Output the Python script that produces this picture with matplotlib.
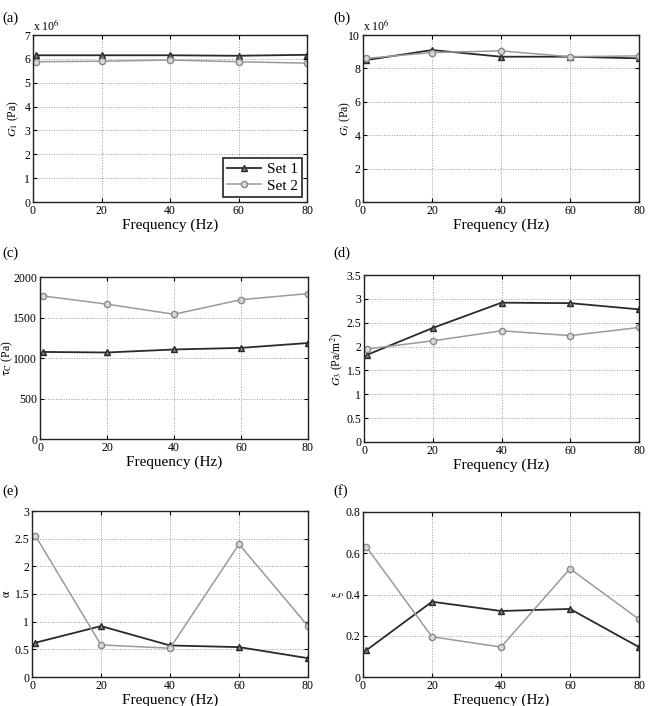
import matplotlib
matplotlib.use("Agg")
import matplotlib.pyplot as plt
import numpy as np

plt.rcParams['font.family'] = ['Liberation Serif', 'DejaVu Serif']
plt.rcParams['mathtext.fontset'] = 'stix'

freq = [1, 20, 40, 60, 80]

g1_set1 = [6.15, 6.15, 6.15, 6.13, 6.17]
g1_set2 = [5.88, 5.90, 5.95, 5.88, 5.82]
gi_set1 = [8.50, 9.10, 8.70, 8.70, 8.60]
gi_set2 = [8.60, 8.95, 9.05, 8.70, 8.75]
tau_set1 = [1075, 1068, 1105, 1125, 1185]
tau_set2 = [1765, 1665, 1540, 1720, 1795]
g3_set1 = [1.83, 2.39, 2.92, 2.91, 2.78]
g3_set2 = [1.95, 2.12, 2.33, 2.23, 2.40]
alpha_set1 = [0.62, 0.92, 0.57, 0.54, 0.34]
alpha_set2 = [2.55, 0.58, 0.52, 2.40, 0.92]
xi_set1 = [0.13, 0.365, 0.32, 0.33, 0.145]
xi_set2 = [0.63, 0.195, 0.145, 0.525, 0.28]

W, H = 649, 706
fig = plt.figure(figsize=(W / 100, H / 100), dpi=100)

def box(l, r, t, b):
    return [l / W, 1 - b / H, (r - l) / W, (b - t) / H]

panels = [
    dict(pos=box(33, 307, 35, 202), s1=g1_set1, s2=g1_set2, ylim=(0, 7), yt=np.arange(0, 8, 1),
         ylabel=r'$G_1$ (Pa)', lab='(a)', labxy=(2, 18), ylpx=13, off=r'x 10$^6$', legend=True),
    dict(pos=box(363, 639, 35, 202), s1=gi_set1, s2=gi_set2, ylim=(0, 10), yt=np.arange(0, 11, 2),
         ylabel=r'$G_i$ (Pa)', lab='(b)', labxy=(333, 18), ylpx=345, off=r'x 10$^6$'),
    dict(pos=box(40, 308, 277, 439), s1=tau_set1, s2=tau_set2, ylim=(0, 2000), yt=np.arange(0, 2001, 500),
         ylabel=r'$\mathrm{\tau_C}$ (Pa)', lab='(c)', labxy=(2, 253), ylpx=7.5),
    dict(pos=box(364, 639, 275, 442), s1=g3_set1, s2=g3_set2, ylim=(0, 3.5), yt=np.arange(0, 3.6, 0.5),
         ylabel=r'$G_3$ (Pa/m$^2$)', lab='(d)', labxy=(333, 253), ylpx=337),
    dict(pos=box(32, 308, 511, 677), s1=alpha_set1, s2=alpha_set2, ylim=(0, 3), yt=np.arange(0, 3.1, 0.5),
         ylabel=r'$\mathrm{\alpha}$', lab='(e)', labxy=(2, 491), ylpx=7),
    dict(pos=box(363, 639, 512, 677), s1=xi_set1, s2=xi_set2, ylim=(0, 0.8), yt=np.arange(0, 0.81, 0.2),
         ylabel=r'$\mathrm{\xi}$', lab='(f)', labxy=(333, 491), ylpx=338),
]

def fmt(v):
    return '%g' % round(v, 6)

for p in panels:
    ax = fig.add_axes(p['pos'])
    ax.plot(freq, p['s1'], color='#2a2a2a', lw=1.3, marker='^', ms=4.5,
            mfc='#777777', mec='#2a2a2a', mew=1.0, label='Set 1')
    ax.plot(freq, p['s2'], color='#9a9a9a', lw=1.1, marker='o', ms=4.5,
            mfc='#d8d8d8', mec='#8a8a8a', mew=1.0, label='Set 2')
    ax.set_xlim(0, 80)
    ax.set_ylim(*p['ylim'])
    ax.set_xticks([0, 20, 40, 60, 80])
    ax.set_yticks(p['yt'])
    ax.set_yticklabels([fmt(v) for v in p['yt']])
    ax.grid(True, linestyle=':', color='#9a9a9a', linewidth=0.7)
    ax.tick_params(direction='in', length=3, labelsize=8.5, pad=2, top=True, right=True, width=0.8)
    for sp in ax.spines.values():
        sp.set_linewidth(1.0)
        sp.set_color('#222222')
    ax.set_xlabel('Frequency (Hz)', fontsize=11, labelpad=1)
    ax.set_ylabel(p['ylabel'], fontsize=8.5, va='center')
    axl = p['pos'][0] * W
    axw = p['pos'][2] * W
    ax.yaxis.set_label_coords((p['ylpx'] - axl) / axw, 0.5)
    fig.text(p['labxy'][0] / W, 1 - p['labxy'][1] / H, p['lab'], fontsize=10.5,
             ha='left', va='center')
    if 'off' in p:
        ax.text(0.0, 1.01, p['off'], transform=ax.transAxes, fontsize=8.5, ha='left', va='bottom')
    if p.get('legend'):
        leg = ax.legend(loc='lower right', fontsize=11, frameon=True, fancybox=False,
                        edgecolor='#222222', framealpha=1, borderpad=0.3, handlelength=2.2,
                        handletextpad=0.4, labelspacing=0.2, borderaxespad=0.3)
        leg.get_frame().set_linewidth(1.2)

fig.savefig('out.png', dpi=100)
